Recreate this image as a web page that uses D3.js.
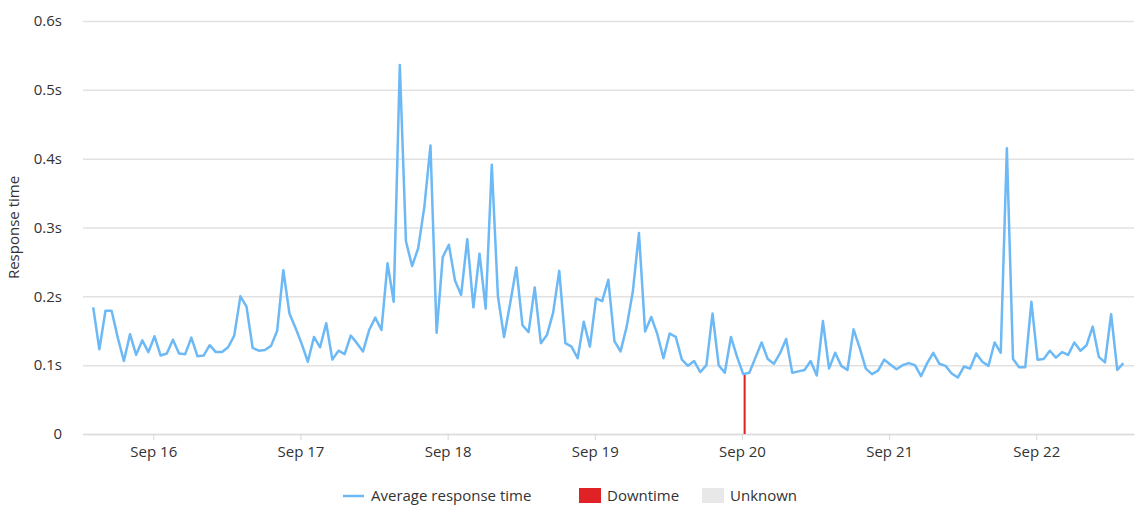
<!DOCTYPE html>
<html>
<head>
<meta charset="utf-8">
<script src="https://cdn.jsdelivr.net/npm/d3@7"></script>
<style>
  body { margin: 0; background: #fff; }
  text { font-family: "Open Sans", Lato, sans-serif; fill: #333; }
</style>
</head>
<body>
<svg id="chart"></svg>
<script>
// hourly average response time (seconds), first sample Sep 15 14:12 UTC
const startTime = Date.UTC(2023, 8, 15, 14, 12);
const responseTimes = [
  0.184, 0.123, 0.179, 0.179, 0.140, 0.106, 0.145, 0.115, 0.136, 0.119,
  0.142, 0.114, 0.117, 0.137, 0.117, 0.116, 0.140, 0.113, 0.114, 0.129,
  0.119, 0.119, 0.126, 0.143, 0.200, 0.185, 0.125, 0.121, 0.122, 0.128,
  0.150, 0.238, 0.175, 0.154, 0.131, 0.105, 0.141, 0.126, 0.161, 0.108,
  0.121, 0.116, 0.143, 0.132, 0.120, 0.151, 0.169, 0.151, 0.248, 0.192,
  0.536, 0.280, 0.244, 0.270, 0.330, 0.419, 0.147, 0.257, 0.275, 0.223,
  0.202, 0.283, 0.184, 0.262, 0.182, 0.391, 0.200, 0.141, 0.190, 0.242,
  0.158, 0.148, 0.213, 0.132, 0.144, 0.176, 0.237, 0.132, 0.127, 0.110,
  0.163, 0.127, 0.197, 0.193, 0.224, 0.135, 0.120, 0.156, 0.207, 0.292,
  0.149, 0.170, 0.145, 0.110, 0.146, 0.141, 0.108, 0.099, 0.106, 0.090,
  0.100, 0.175, 0.100, 0.089, 0.141, 0.112, 0.087, 0.089, 0.111, 0.133,
  0.109, 0.102, 0.117, 0.138, 0.089, 0.091, 0.093, 0.106, 0.085, 0.164,
  0.095, 0.118, 0.099, 0.093, 0.152, 0.125, 0.095, 0.087, 0.092, 0.108,
  0.101, 0.094, 0.100, 0.103, 0.100, 0.084, 0.103, 0.118, 0.102, 0.099,
  0.088, 0.082, 0.098, 0.095, 0.117, 0.105, 0.099, 0.133, 0.118, 0.415,
  0.109, 0.097, 0.097, 0.192, 0.108, 0.109, 0.121, 0.111, 0.119, 0.115,
  0.133, 0.121, 0.129, 0.156, 0.112, 0.104, 0.174, 0.093, 0.103
];
const downtimes = [
  { start: Date.UTC(2023, 8, 20, 0, 16), end: Date.UTC(2023, 8, 20, 0, 36) }
];
const yTicks = [0, 0.1, 0.2, 0.3, 0.4, 0.5, 0.6];
const legendItems = [
  { label: "Average response time", kind: "line", color: "#6cb9f6" },
  { label: "Downtime", kind: "box", color: "#e02226" },
  { label: "Unknown", kind: "box", color: "#e8e8e8" }
];

const data = responseTimes.map((v, i) => ({ date: new Date(startTime + i * 3600e3), value: v }));

const margin = { top: 21, right: 14, bottom: 81, left: 83 },
    width = 1148 - margin.left - margin.right,
    height = 515 - margin.top - margin.bottom;

const fontSize = 15;

const svg = d3.select("#chart")
    .attr("width", width + margin.left + margin.right)
    .attr("height", height + margin.top + margin.bottom);

const g = svg.append("g")
    .attr("transform", `translate(${margin.left},${margin.top})`);

const x = d3.scaleUtc()
    .domain([Date.UTC(2023, 8, 15, 12, 32), Date.UTC(2023, 8, 22, 15, 56)])
    .range([0, width]);

const y = d3.scaleLinear()
    .domain([0, 0.6])
    .range([height, 0]);

// gridlines + y labels
g.append("g")
    .call(d3.axisLeft(y).tickValues(yTicks).tickSize(-width).tickFormat(d => d === 0 ? "0" : d3.format(".1f")(d) + "s"))
    .call(a => a.select(".domain").remove())
    .call(a => a.selectAll(".tick line").attr("stroke", "#e2e2e2").attr("stroke-width", 1.5))
    .call(a => a.selectAll(".tick text").attr("x", -21).attr("font-size", fontSize).attr("fill", "#333"));

// x axis
g.append("g")
    .attr("transform", `translate(0,${height})`)
    .call(d3.axisBottom(x).ticks(d3.utcDay.every(1)).tickSize(6).tickSizeOuter(0).tickFormat(d3.utcFormat("%b %-d")))
    .call(a => a.select(".domain").attr("stroke", "#dcdcdc").attr("stroke-width", 1.5))
    .call(a => a.selectAll(".tick line").attr("stroke", "#d6d6d6"))
    .call(a => a.selectAll(".tick text").attr("dy", "0.95em").attr("font-size", fontSize).attr("fill", "#333"));

// downtime bars up to the line
const bisect = d3.bisector(d => d.date).left;
function valueAt(t) {
    const i = Math.max(1, Math.min(data.length - 1, bisect(data, new Date(t))));
    const a = data[i - 1], b = data[i];
    const k = (t - a.date) / (b.date - a.date);
    return a.value + (b.value - a.value) * k;
}
g.append("g")
    .selectAll("rect")
    .data(downtimes)
    .join("rect")
    .attr("x", d => x(d.start))
    .attr("width", d => Math.max(2, x(d.end) - x(d.start)))
    .attr("y", d => y(valueAt(d.start)))
    .attr("height", d => height - y(valueAt(d.start)))
    .attr("fill", "#e02226");

// response time line
g.append("path")
    .datum(data)
    .attr("fill", "none")
    .attr("stroke", "#6cb9f6")
    .attr("stroke-width", 2.5)
    .attr("stroke-linejoin", "round")
    .attr("d", d3.line().x(d => x(d.date)).y(d => y(d.value)));

// y title
svg.append("text")
    .attr("transform", `translate(19,${margin.top + height / 2}) rotate(-90)`)
    .attr("text-anchor", "middle")
    .attr("font-size", fontSize)
    .text("Response time");

// legend
const legendX = [343, 579, 702];
const legend = svg.append("g").attr("transform", "translate(0,496)");
legendItems.forEach((d, i) => {
    const item = legend.append("g").attr("transform", `translate(${legendX[i]},0)`);
    if (d.kind === "line") {
        item.append("line").attr("x1", 0).attr("x2", 21).attr("stroke", d.color).attr("stroke-width", 2.5);
        item.append("text").attr("x", 28).attr("dy", "0.35em").attr("font-size", fontSize).text(d.label);
    } else {
        item.append("rect").attr("x", 0).attr("y", -8).attr("width", 22).attr("height", 15).attr("fill", d.color);
        item.append("text").attr("x", 28).attr("dy", "0.35em").attr("font-size", fontSize).text(d.label);
    }
});
</script>
</body>
</html>
